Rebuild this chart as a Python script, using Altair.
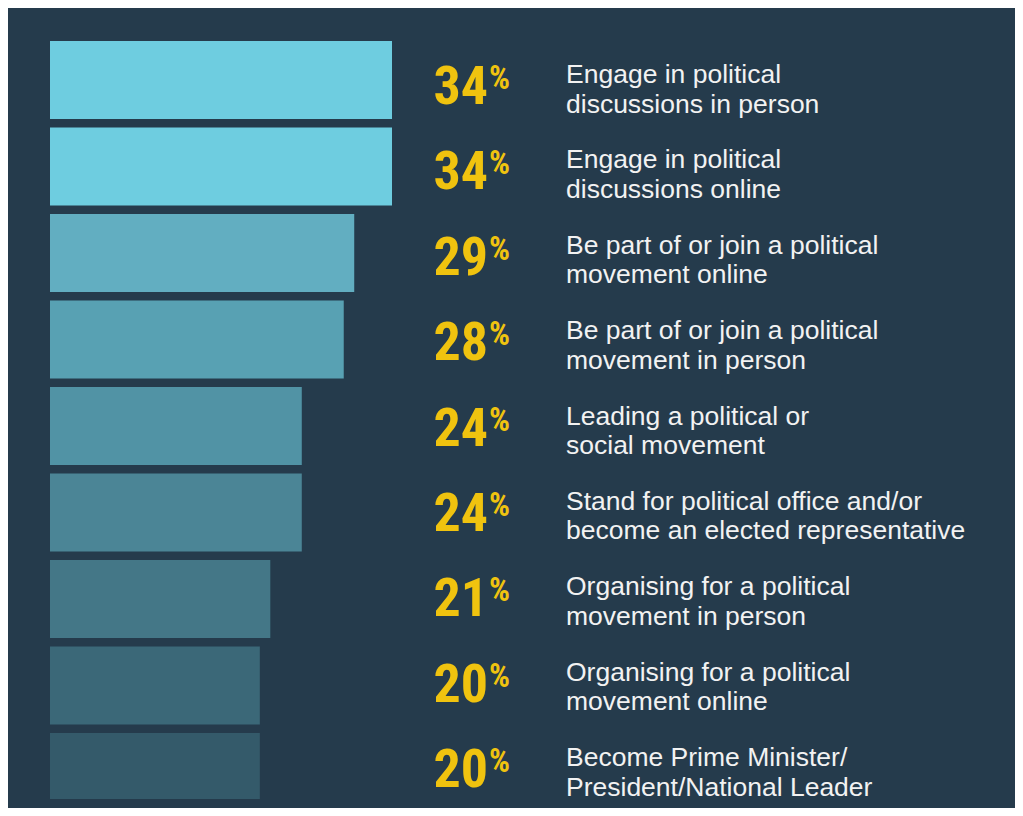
import altair as alt
import pandas as pd

descriptions = [
    "Engage in political\ndiscussions in person",
    "Engage in political\ndiscussions online",
    "Be part of or join a political\nmovement online",
    "Be part of or join a political\nmovement in person",
    "Leading a political or\nsocial movement",
    "Stand for political office and/or\nbecome an elected representative",
    "Organising for a political\nmovement in person",
    "Organising for a political\nmovement online",
    "Become Prime Minister/\nPresident/National Leader",
]
values = [34, 34, 29, 28, 24, 24, 21, 20, 20]
bar_colors = ["#6ecde0", "#6ecde0", "#62aec1", "#58a1b3", "#5193a5",
              "#4b8596", "#447787", "#3b6878", "#345a6a"]

keys = [f"r{i}" for i in range(len(values))]
df = pd.DataFrame({
    "key": keys,
    "desc": descriptions,
    "value": values,
    "num": [str(v) for v in values],
    "pct": ["%"] * len(values),
})

BG = "#253b4c"
YELLOW = "#f0c30f"
NUM_FONT = "Liberation Sans Narrow, Roboto Condensed, DejaVu Sans Condensed, sans-serif"

bar_base = alt.Chart(df).encode(
    y=alt.Y("key:N", sort=keys, axis=None,
            scale=alt.Scale(domain=keys, range=[0, 770],
                            paddingInner=0.098, paddingOuter=0))
)

bars = bar_base.mark_bar(clip=True).encode(
    x=alt.X("value:Q", axis=None,
            scale=alt.Scale(domain=[0, 32.6], range=[0, 342], clamp=True)),
    color=alt.Color("key:N", scale=alt.Scale(domain=keys, range=bar_colors), legend=None),
)

# text rows sit on a slightly tighter pitch than the bars
text_base = alt.Chart(df).encode(
    y=alt.Y("key:N", sort=keys, axis=None,
            scale=alt.Scale(type="point", domain=keys, range=[42, 725], padding=0))
)

nums = text_base.mark_text(
    align="right", baseline="alphabetic", dy=21,
    font=NUM_FONT, fontSize=54, fontWeight="bold", color=YELLOW,
).encode(x=alt.value(438), text="num:N")

pcts = text_base.mark_text(
    align="left", baseline="alphabetic", dy=6,
    font=NUM_FONT, fontSize=33, fontWeight="bold", color=YELLOW,
).encode(x=alt.value(439), text="pct:N")

descs = text_base.mark_text(
    align="left", baseline="alphabetic", dy=0, lineBreak="\n", lineHeight=29.5,
    font="Liberation Sans, Arial, sans-serif", fontSize=26.5, color="#f2f2f2",
).encode(x=alt.value(516), text="desc:N")

chart = alt.layer(bars, nums, pcts, descs).resolve_scale(y="independent").properties(
    width=965, height=758,
    autosize=alt.AutoSizeParams(type="none"),
    padding={"left": 42, "top": 33, "right": 0, "bottom": 9},
    background=BG,
).configure_view(stroke=None)

chart.save("out.html", embed_options={"renderer": "svg", "actions": False})
